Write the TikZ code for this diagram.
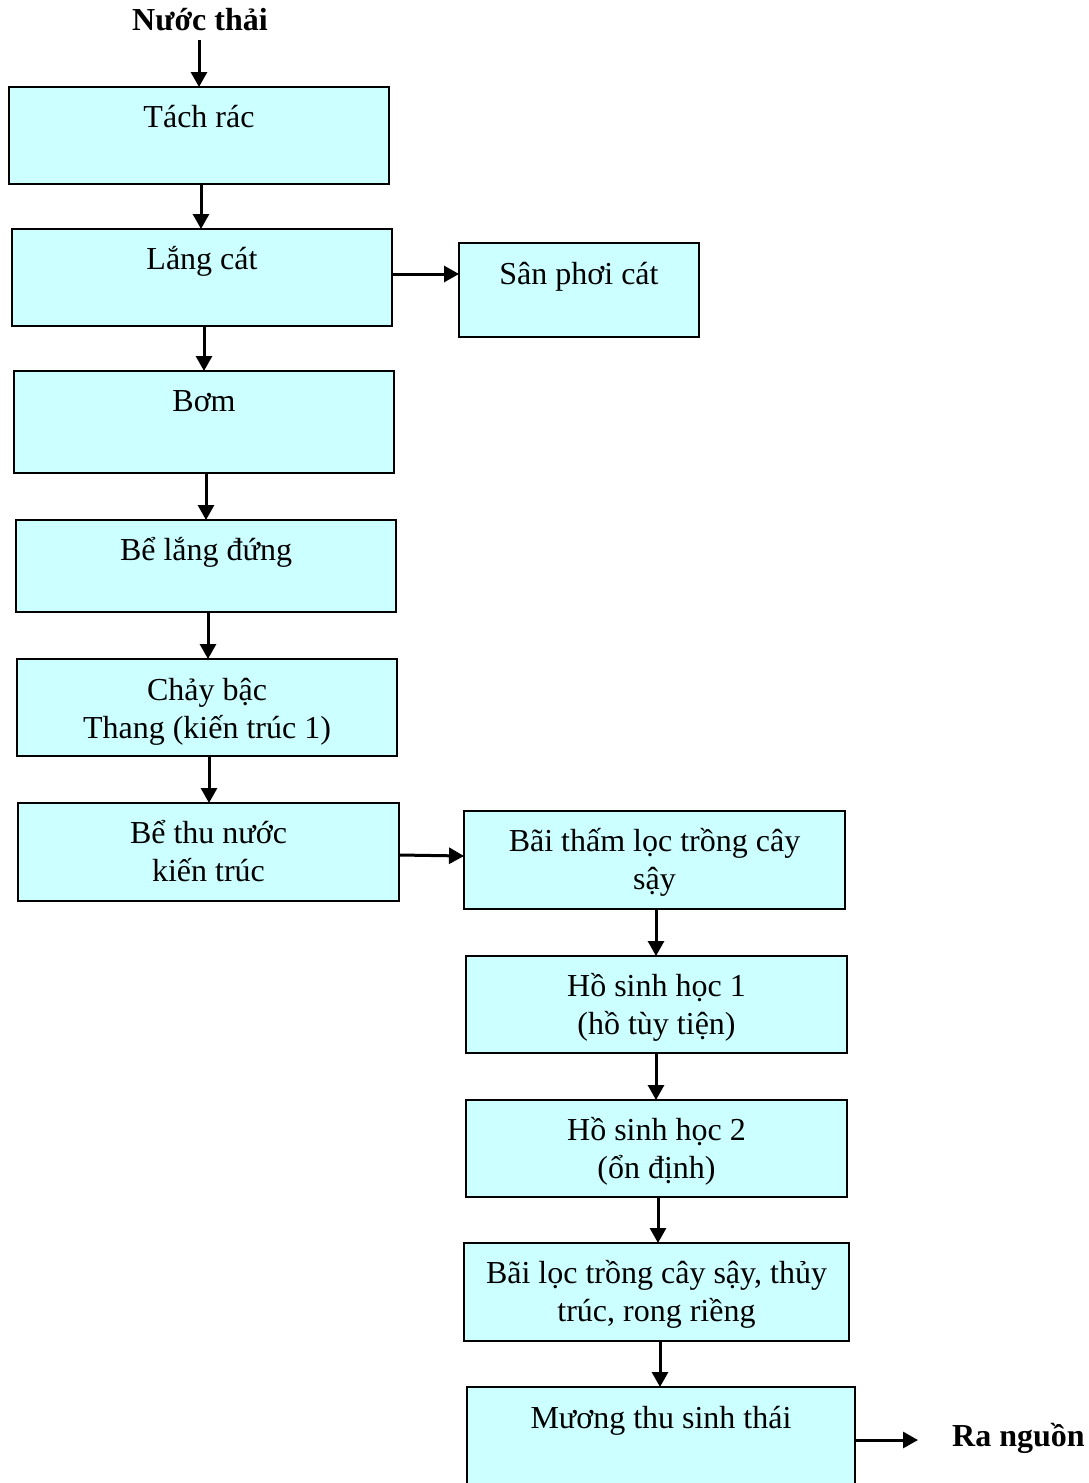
\documentclass[tikz,border=0pt]{standalone}
\usepackage{fontspec}
\setmainfont{Liberation Serif}
\usetikzlibrary{arrows.meta}
\definecolor{boxfill}{HTML}{CCFFFF}
\tikzset{
  box/.style={draw=black, line width=1.5pt, fill=boxfill, inner sep=0pt, outer sep=0pt},
  txt/.style={anchor=base, align=center, inner sep=0pt, font=\fontsize{32}{38}\selectfont},
  boldtxt/.style={anchor=base, inner sep=0pt, font=\fontsize{32}{38}\selectfont\bfseries},
  arr/.style={line width=3pt, -{Triangle[length=15pt,width=16pt]}}
}
% #7 = baseline offset of the last line from the box top
\newcommand\mkbox[7]{%
  \node[box, minimum width={#4-#2}, minimum height={#5-#3}] (#1) at ({(#2+#4)/2},{(#3+#5)/2}) {};
  \node[txt] (#1t) at ([yshift=-#7pt]#1.north) {#6};
}
\begin{document}
\begin{tikzpicture}[x=1pt,y=-1pt]
\useasboundingbox (0,0) rectangle (1089,1483);
\mkbox{tach}{9}{87}{389}{184}{Tách rác}{40}
\mkbox{lang}{12}{229}{392}{326}{Lắng cát}{40}
\mkbox{san}{459}{243}{699}{337}{Sân phơi cát}{41}
\mkbox{bom}{14}{371}{394}{473}{Bơm}{40}
\mkbox{bld}{16}{520}{396}{612}{Bể lắng đứng}{40}
\mkbox{chay}{17}{659}{397}{756}{Chảy bậc\\Thang (kiến trúc 1)}{79}
\mkbox{bethu}{18}{803}{399}{901}{Bể thu nước\\kiến trúc}{78}
\mkbox{baitham}{464}{811}{845}{909}{Bãi thấm lọc trồng cây\\sậy}{78}
\mkbox{ho1}{466}{956}{847}{1053}{Hồ sinh học 1\\(hồ tùy tiện)}{78}
\mkbox{ho2}{466}{1100}{847}{1197}{Hồ sinh học 2\\(ổn định)}{78}
\mkbox{bailoc}{464}{1243}{849}{1341}{Bãi lọc trồng cây sậy, thủy\\trúc, rong riềng}{78}
\mkbox{muong}{467}{1387}{855}{1487}{Mương thu sinh thái}{41}
\node[boldtxt] (nuoc) at (200,30) {Nước thải};
\node[boldtxt, anchor=base west] (ra) at (952,1446) {Ra nguồn};
% arrows
\draw[arr] (199,40) -- (tach.north -| 199,0);
\draw[arr] (tach.south -| 201,0) -- (lang.north -| 201,0);
\draw[arr] (lang.east |- 0,274) -- (san.west |- 0,274);
\draw[arr] (lang.south -| 204,0) -- (bom.north -| 204,0);
\draw[arr] (bom.south -| 206,0) -- (bld.north -| 206,0);
\draw[arr] (bld.south -| 208,0) -- (chay.north -| 208,0);
\draw[arr] (chay.south -| 209,0) -- (bethu.north -| 209,0);
\draw[arr] (bethu.east |- 0,855) -- (baitham.west |- 0,856);
\draw[arr] (baitham.south -| 656,0) -- (ho1.north -| 656,0);
\draw[arr] (ho1.south -| 656,0) -- (ho2.north -| 656,0);
\draw[arr] (ho2.south -| 658,0) -- (bailoc.north -| 658,0);
\draw[arr] (bailoc.south -| 660,0) -- (muong.north -| 660,0);
\coordinate (raend) at (918,1440);
\draw[arr] (muong.east |- raend) -- (raend);
\end{tikzpicture}
\end{document}
